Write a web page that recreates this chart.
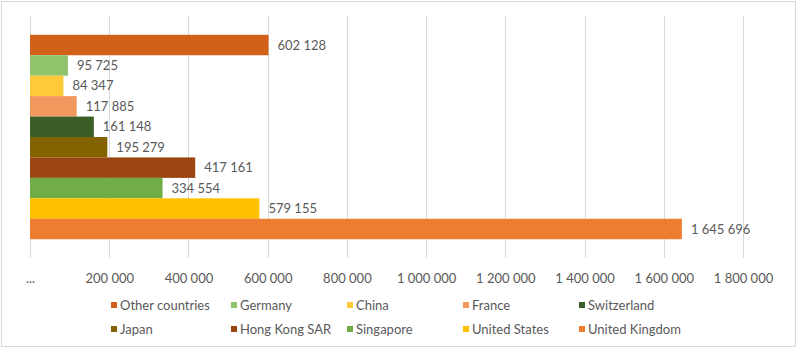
<!DOCTYPE html>
<html>
<head>
<meta charset="utf-8">
<script src="https://cdn.jsdelivr.net/npm/d3@7"></script>
<style>
  body { margin: 0; background: #fff; }
  text { font-family: Lato, "Open Sans", sans-serif; fill: #595959; }
</style>
</head>
<body>
<div id="barChart"></div>
<script>
// series, top to bottom as drawn
const countries = ["Other countries", "Germany", "China", "France", "Switzerland",
  "Japan", "Hong Kong SAR", "Singapore", "United States", "United Kingdom"];
const values = [602128, 95725, 84347, 117885, 161148, 195279, 417161, 334554, 579155, 1645696];
const colors = ["#d0601a", "#90c46c", "#ffca3a", "#f2985f", "#3a5e26",
  "#836200", "#9b4510", "#70ad47", "#ffc000", "#ed7d31"];

// x axis ticks
const tickValues = [0, 200000, 400000, 600000, 800000, 1000000, 1200000, 1400000, 1600000, 1800000];
const tickLabels = ["...", "200 000", "400 000", "600 000", "800 000", "1 000 000",
  "1 200 000", "1 400 000", "1 600 000", "1 800 000"];

const width = 798;
const height = 350;
const margin = { top: 16, right: 55, bottom: 92, left: 30 };

const svg = d3
  .select("#barChart")
  .append("svg")
  .attr("width", width)
  .attr("height", height);

// chart border
svg
  .append("rect")
  .attr("x", 1.5)
  .attr("y", 1.5)
  .attr("width", width - 4)
  .attr("height", height - 5)
  .attr("fill", "none")
  .attr("stroke", "#d9d9d9");

const xScale = d3
  .scaleLinear()
  .domain([0, 1800000])
  .range([margin.left, width - margin.right]);

const yScale = d3
  .scaleBand()
  .domain(countries)
  .range([margin.top, height - margin.bottom])
  .paddingInner(0)
  .paddingOuter(0.92);

// vertical gridlines
svg
  .append("g")
  .selectAll("line")
  .data(tickValues)
  .join("line")
  .attr("x1", (d) => Math.round(xScale(d)) + 0.5)
  .attr("x2", (d) => Math.round(xScale(d)) + 0.5)
  .attr("y1", margin.top)
  .attr("y2", height - margin.bottom)
  .attr("stroke", "#d9d9d9")
  .attr("stroke-width", 1);

// x axis labels, no axis line
const xAxis = d3
  .axisBottom(xScale)
  .tickValues(tickValues)
  .tickFormat((d, i) => tickLabels[i])
  .tickSize(0)
  .tickPadding(16);

svg
  .append("g")
  .attr("transform", `translate(0, ${height - margin.bottom})`)
  .call(xAxis)
  .call((g) => g.select(".domain").remove())
  .selectAll("text")
  .style("font-size", "13px")
  .style("font-family", "Lato, sans-serif")
  .attr("fill", "#595959");

// bars
svg
  .append("g")
  .selectAll("rect")
  .data(countries)
  .join("rect")
  .attr("x", xScale(0))
  .attr("y", (d) => yScale(d))
  .attr("width", (d, i) => xScale(values[i]) - xScale(0))
  .attr("height", yScale.bandwidth())
  .attr("fill", (d, i) => colors[i]);

// value labels, space as thousands separator
const fmt = d3.formatLocale({ decimal: ",", thousands: " ", grouping: [3], currency: ["", ""] }).format(",d");

svg
  .append("g")
  .selectAll("text")
  .data(countries)
  .join("text")
  .attr("x", (d, i) => xScale(values[i]) + 9)
  .attr("y", (d) => yScale(d) + yScale.bandwidth() / 2)
  .attr("dy", "0.35em")
  .style("font-size", "13px")
  .text((d, i) => fmt(values[i]));

// legend, two rows of five
const legendX = [111, 231, 347, 463, 579];
const legendY = [305, 329];

const legend = svg
  .append("g")
  .selectAll("g")
  .data(countries)
  .join("g")
  .attr("transform", (d, i) => `translate(${legendX[i % 5]}, ${legendY[Math.floor(i / 5)]})`);

legend
  .append("rect")
  .attr("x", 0)
  .attr("y", -3)
  .attr("width", 6)
  .attr("height", 6)
  .attr("fill", (d, i) => colors[i]);

legend
  .append("text")
  .attr("x", 9)
  .attr("dy", "0.35em")
  .style("font-size", "13px")
  .text((d) => d);
</script>
</body>
</html>
